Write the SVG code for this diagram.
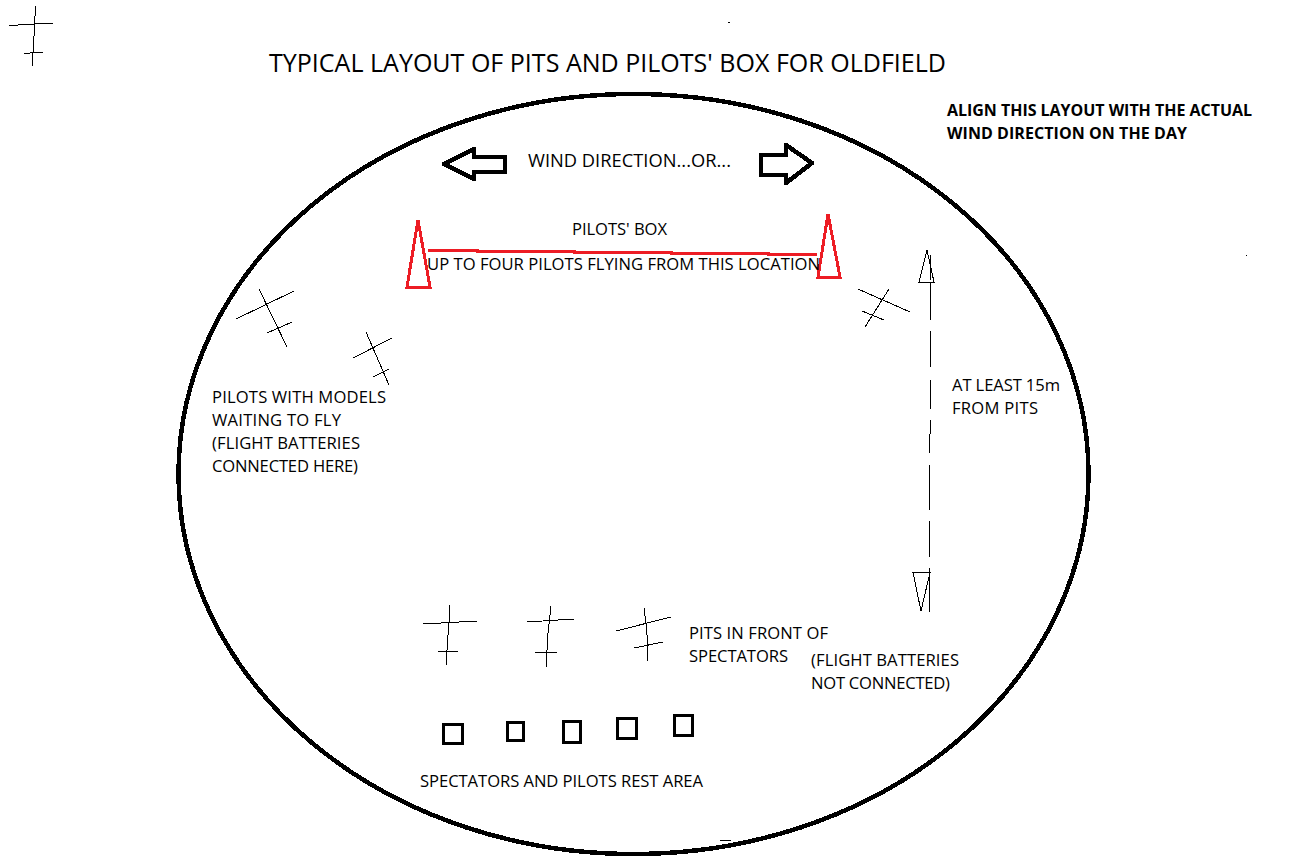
<svg xmlns="http://www.w3.org/2000/svg" width="1296" height="864" viewBox="0 0 1296 864">
<style>
text{font-family:"Open Sans","Noto Sans","Liberation Sans",sans-serif;font-size:16.6px;fill:#000}
.t{font-size:25px}
.w{font-size:18.300px}
.b{font-weight:bold;font-size:16px}
path,rect,ellipse{shape-rendering:crispEdges}
.l{fill:none;stroke:#000;stroke-width:1}
.k{fill:none;stroke:#000;stroke-width:3}
.a{fill:none;stroke:#000;stroke-width:4.500;stroke-linejoin:round}
.r{fill:none;stroke:#ed1c24;stroke-width:3}
</style>
<rect width="1296" height="864" fill="#fff"/>
<g id="field"><ellipse cx="633.500" cy="474" rx="455" ry="380" fill="none" stroke="#000" stroke-width="4.500"/></g>
<g id="title"><text class="t" x="269" y="72" textLength="677">TYPICAL LAYOUT OF PITS AND PILOTS' BOX FOR OLDFIELD</text></g>
<g id="note"><text class="b" x="947" y="116" textLength="305">ALIGN THIS LAYOUT WITH THE ACTUAL</text><text class="b" x="947" y="139" textLength="240">WIND DIRECTION ON THE DAY</text></g>
<g id="wind"><path class="a" d="M505 157H474V149L444 164L474 179V172H505Z"/><text class="w" x="528" y="167" textLength="203">WIND DIRECTION...OR...</text><path class="a" d="M761 155H786V145L812 163L786 183V175H761Z"/></g>
<g id="pilots-box"><path class="r" d="M418 220L407 287H430Z"/><path class="r" d="M828 214L818 277H840Z"/><path class="r" d="M428 250H477V251H574V252H671V253H768V254H817"/><text x="572" y="235" textLength="95">PILOTS' BOX</text><text x="427" y="270" textLength="393">UP TO FOUR PILOTS FLYING FROM THIS LOCATION</text></g>
<g id="person-corner"><path class="l" d="M35.500 6V16M34.500 16V36M33.500 36V53M32.500 53V66M9 25.500H18M18 24.500H35M35 23.500H53M24 53.500L43 52"/></g>
<g id="person-w1"><path class="l" d="M259 289L287 347M236 319L294 291M267 333L292 322"/></g>
<g id="person-w2"><path class="l" d="M366 332L389 385M353 358L392 338M373 377L389 369"/></g>
<g id="person-e"><path class="l" d="M889 289L865 327M858 289L910 312M862 311L884 320"/></g>
<g id="waiting-label"><text x="212" y="403" textLength="174">PILOTS WITH MODELS</text><text x="212" y="426" textLength="129">WAITING TO FLY</text><text x="212" y="449" textLength="148">(FLIGHT BATTERIES</text><text x="212" y="472" textLength="146">CONNECTED HERE)</text></g>
<g id="distance"><path class="l" d="M927 250L919 282H934ZM930.500 255V280M930.500 282V320M930.500 331V367M930.500 380V409M930.500 420V434M929.500 434V453M929.500 465V510M929.500 521V557M929.500 568V612M913 572.500H930L921 611Z"/><text x="952" y="391" textLength="108">AT LEAST 15m</text><text x="952" y="414" textLength="86">FROM PITS</text></g>
<g id="pit1"><path class="l" d="M449.500 605V623M448.500 623V635M447.500 635V650M446.500 650V665M423 624L477 621M438 651.500H458"/></g>
<g id="pit2"><path class="l" d="M551 606L548 633L546 667M527 622L574 619M535 652.500H557"/></g>
<g id="pit3"><path class="l" d="M644 608L646 623L647 635L648 661M616 631L671 617M634 648L663 642"/></g>
<g id="pits-label"><text x="689" y="639" textLength="139">PITS IN FRONT OF</text><text x="689" y="662" textLength="99">SPECTATORS</text><text x="811" y="666" textLength="148">(FLIGHT BATTERIES</text><text x="811" y="689" textLength="139">NOT CONNECTED)</text></g>
<g id="seats"><rect class="k" x="443.500" y="724.500" width="19" height="19"/><rect class="k" x="507.500" y="722.500" width="16" height="18"/><rect class="k" x="563.500" y="721.500" width="17" height="21"/><rect class="k" x="617.500" y="718.500" width="19" height="20"/><rect class="k" x="674.500" y="715.500" width="18" height="20"/></g>
<g id="rest-label"><text x="420" y="787" textLength="283">SPECTATORS AND PILOTS REST AREA</text></g>
<g id="specks"><rect x="720" y="840" width="11" height="1"/><rect x="728" y="22" width="2" height="1"/><rect x="1246" y="255" width="1" height="1"/></g>
</svg>
